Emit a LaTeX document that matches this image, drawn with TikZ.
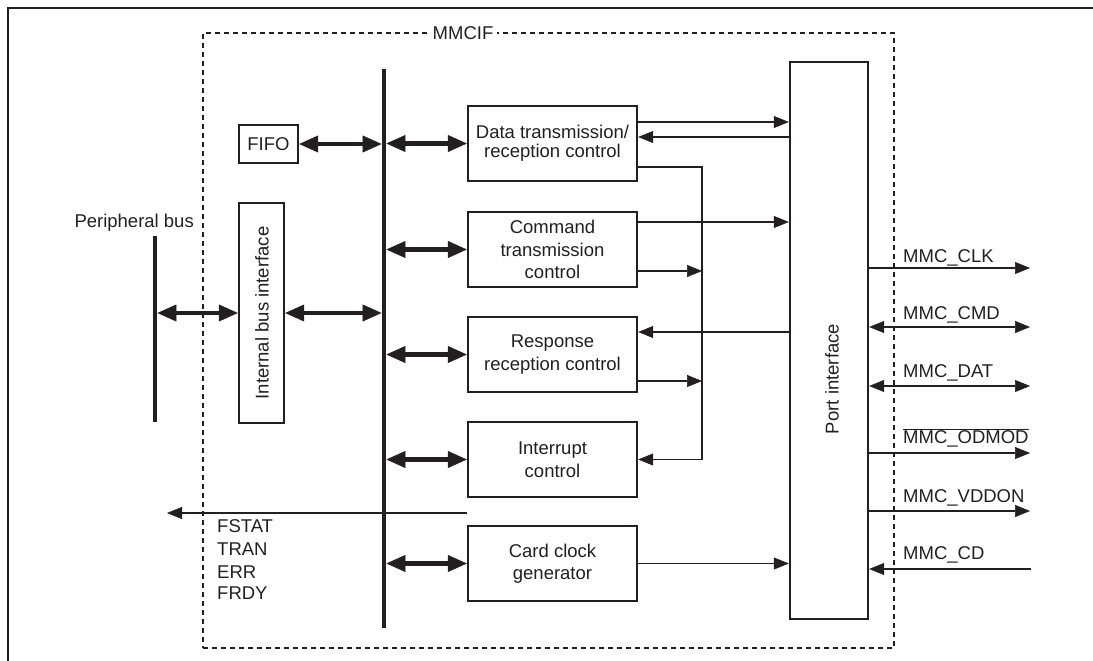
\documentclass[tikz,border=0pt]{standalone}
\usepackage{fontspec}
\setmainfont{Liberation Sans}
\usetikzlibrary{arrows.meta}
\definecolor{ink}{HTML}{231F20}
\begin{document}
\begin{tikzpicture}[x=1pt,y=-1pt,
  box/.style={draw=ink, line width=2.4pt, inner sep=0pt, align=center, text=ink,
    font=\fontsize{18.5}{22.5}\selectfont, minimum width=169pt, minimum height=75pt},
  lbl/.style={font=\fontsize{18.5}{22}\selectfont, text=ink, inner sep=0pt},
  bigarrow/.style={draw=ink, line width=4.2pt,
    {Triangle[length=19pt,width=17pt,line width=0.5pt]}-{Triangle[length=19pt,width=17pt,line width=0.5pt]}},
  sig/.style={draw=ink, line width=1.3pt, -{Triangle[length=15pt,width=12pt,line width=0.5pt]}},
  sigboth/.style={draw=ink, line width=1.3pt,
    {Triangle[length=15pt,width=12pt,line width=0.5pt]}-{Triangle[length=15pt,width=12pt,line width=0.5pt]}},
  busbar/.style={fill=ink, inner sep=0pt, minimum width=4.5pt},
  group/.style={draw=ink, line width=2.4pt, dash pattern=on 5pt off 4pt, inner sep=0pt}
]
\useasboundingbox (0,0) rectangle (1093,661);

% outer frame (top and left edges only)
\draw[ink, line width=2.8pt] (8,661) -- (8,8) -- (1093,8);

% MMCIF group
\node[group, minimum width=691pt, minimum height=615pt] (mmcif) at (548.5,340.5) {};
\node[lbl, fill=white, inner xsep=4pt, inner ysep=1pt, anchor=base] (mmciflbl) at (463,39.5) {MMCIF};

% buses
\node[busbar, minimum height=559pt] (bus) at (384,348.5) {};
\node[busbar, minimum height=186pt] (pbus) at (155,329) {};
\node[lbl, anchor=base east] (pbuslbl) at (194,227.5) {Peripheral bus};

% blocks
\node[box, minimum width=59pt, minimum height=38pt] (fifo) at (268.5,144) {FIFO};
\node[box, minimum width=45pt, minimum height=220pt] (ibi) at (261.5,313) {};
\node[lbl, rotate=90] (ibitxt) at (262,313) {Internal bus interface};

\node[box, font=\fontsize{18.5}{19}\selectfont] (data) at (552.5,143.5) {Data transmission/\\reception control};
\node[box] (cmd)  at (552.5,249.5) {Command\\transmission\\control};
\node[box] (resp) at (552.5,354.5) {Response\\reception control};
\node[box] (intr) at (552.5,459.5) {Interrupt\\control};
\node[box] (card) at (552.5,563.5) {Card clock\\generator};

\node[box, minimum width=78pt, minimum height=557pt] (port) at (829,340.5) {};
\node[lbl, rotate=90] (porttxt) at (832,379) {Port interface};

% thick bidirectional bus connections
\draw[bigarrow] (fifo.east) -- (bus.west |- fifo);
\draw[bigarrow] (pbus.east |- ibi) -- (ibi.west);
\draw[bigarrow] (ibi.east) -- (bus.west |- ibi);
\draw[bigarrow] (bus.east |- data) -- (data.west);
\draw[bigarrow] (bus.east |- cmd) -- (cmd.west);
\draw[bigarrow] (bus.east |- resp) -- (resp.west);
\draw[bigarrow] (bus.east |- intr) -- (intr.west);
\draw[bigarrow] (bus.east |- card) -- (card.west);

% internal signals
\coordinate (jx) at (702,0);
\draw[sig] (data.east |- 0,122) -- (port.west |- 0,122);
\draw[sig] (port.west |- 0,137) -- (data.east |- 0,137);
\draw[sig] (data.east |- 0,167) -| (jx |- intr) -- (intr.east);
\draw[sig] (cmd.east |- 0,222) -- (port.west |- 0,222);
\draw[sig] (cmd.east |- 0,271) -- (jx |- 0,271);
\draw[sig] (port.west |- 0,332) -- (resp.east |- 0,332);
\draw[sig] (resp.east |- 0,381) -- (jx |- 0,381);
\draw[sig] (card.east) -- (port.west |- card);

% status output
\coordinate (fsend) at (167,513);
\draw[sig] (card.west |- 0,513) -- (fsend);
\node[lbl, anchor=base west] (fs1) at (217,532.5) {FSTAT};
\node[lbl, anchor=base west] (fs2) at (217,555.5) {TRAN};
\node[lbl, anchor=base west] (fs3) at (217,578.5) {ERR};
\node[lbl, anchor=base west] (fs4) at (217,599.5) {FRDY};

% external pins
\coordinate (clkE) at (1030,268);
\coordinate (cmdE) at (1030,327);
\coordinate (datE) at (1030,386);
\coordinate (odE)  at (1030,453);
\coordinate (vddE) at (1030,511);
\coordinate (cdE)  at (1031,569);
\draw[sig]     (port.east |- clkE) -- (clkE);
\draw[sigboth] (port.east |- cmdE) -- (cmdE);
\draw[sigboth] (port.east |- datE) -- (datE);
\draw[sig]     (port.east |- odE) -- (odE);
\draw[sig]     (port.east |- vddE) -- (vddE);
\draw[sig]     (cdE) -- (port.east |- cdE);

\node[lbl, anchor=base west] (clklbl) at (903,262.5) {MMC\_CLK};
\node[lbl, anchor=base west] (cmdlbl) at (903,319.5) {MMC\_CMD};
\node[lbl, anchor=base west] (datlbl) at (903,377.5) {MMC\_DAT};
\node[lbl, anchor=base west] (odlbl)  at (903,443.5) {$\overline{\hbox{MMC\_ODMOD}}$};
\node[lbl, anchor=base west] (vddlbl) at (903,502.5) {MMC\_VDDON};
\node[lbl, anchor=base west] (cdlbl)  at (903,559.5) {MMC\_CD};
\end{tikzpicture}
\end{document}
